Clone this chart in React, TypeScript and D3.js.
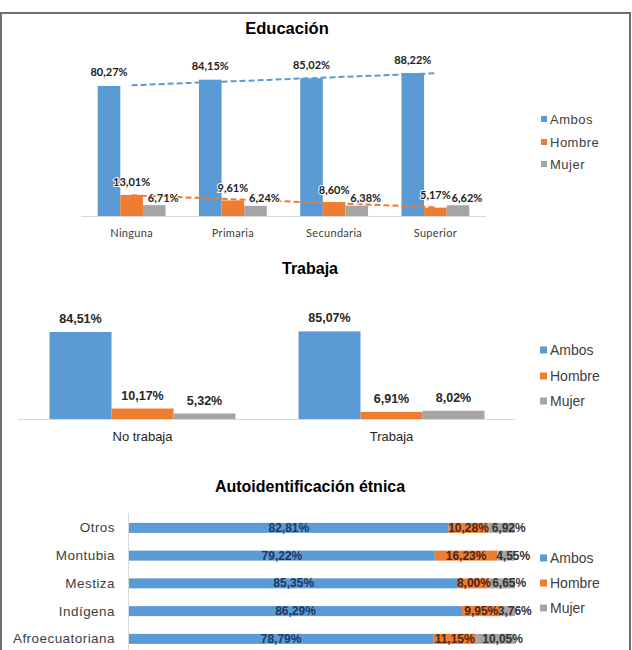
import React from "react";
import * as d3 from "d3";

// Educación
const eduCategories = ["Ninguna", "Primaria", "Secundaria", "Superior"];
const eduAmbos = [80.27, 84.15, 85.02, 88.22];
const eduHombre = [13.01, 9.61, 8.6, 5.17];
const eduMujer = [6.71, 6.24, 6.38, 6.62];

// Trabaja
const trabCategories = ["No trabaja", "Trabaja"];
const trabAmbos = [84.51, 85.07];
const trabHombre = [10.17, 6.91];
const trabMujer = [5.32, 8.02];

// Autoidentificación étnica
const etnCategories = ["Otros", "Montubia", "Mestiza", "Indígena", "Afroecuatoriana"];
const etnAmbos = [82.81, 79.22, 85.35, 86.29, 78.79];
const etnHombre = [10.28, 16.23, 8.0, 9.95, 11.15];
const etnMujer = [6.92, 4.55, 6.65, 3.76, 10.05];

const seriesNames = ["Ambos", "Hombre", "Mujer"];
const colors = ["#5b9bd5", "#ed7d31", "#a5a5a5"];

const fmt = (v: number) => v.toFixed(2).replace(".", ",") + "%";
const ARIAL = "'Liberation Sans', Arial, sans-serif";
const CALIBRI = "Lato, 'Open Sans', sans-serif";

// least squares fit over category index, like Excel's linear trendline
function linearFit(values: number[]) {
  const n = values.length;
  const xs = values.map((_, i) => i + 1);
  const mx = d3.mean(xs)!;
  const my = d3.mean(values)!;
  let sxy = 0, sxx = 0;
  for (let i = 0; i < n; i++) {
    sxy += (xs[i] - mx) * (values[i] - my);
    sxx += (xs[i] - mx) ** 2;
  }
  const slope = sxy / sxx;
  return values.map((_, i) => my + slope * (xs[i] - mx));
}

function Legend({ x, ys, size, font, fontSize, spacing = 0 }: any) {
  return (
    <g>
      {seriesNames.map((s, i) => (
        <g key={s}>
          <rect x={x} y={ys[i] - size / 2} width={size} height={size} fill={colors[i]} />
          <text x={x + size + 3} y={ys[i]} dominantBaseline="central" fontFamily={font}
            fontSize={fontSize} letterSpacing={spacing} fill="#404040">{s}</text>
        </g>
      ))}
    </g>
  );
}

function Educacion() {
  const x = d3.scaleBand().domain(eduCategories).range([81, 486]).paddingInner(0.33).paddingOuter(0.165);
  const sub = d3.scaleBand().domain(seriesNames).range([0, x.bandwidth()]);
  const y = d3.scaleLinear().domain([0, 100]).range([216, 54]);
  const series = [eduAmbos, eduHombre, eduMujer];
  const labelGap = [14, 13, 8];
  const labelShift = [0, 0, 9];
  const cx = (c: string) => x(c)! + x.bandwidth() / 2;
  const trend = d3.line<[number, number]>().x((d) => d[0]).y((d) => y(d[1]));
  return (
    <g>
      <text x={287} y={28} textAnchor="middle" dominantBaseline="central" fontFamily={ARIAL}
        fontWeight="bold" fontSize={16.5} fill="#000">Educación</text>
      <line x1={81} x2={486} y1={216.5} y2={216.5} stroke="#d9d9d9" />
      {series.map((vals, si) =>
        vals.map((v, i) => (
          <rect key={`${si}-${i}`} x={x(eduCategories[i])! + sub(seriesNames[si])!} y={y(v)}
            width={sub.bandwidth()} height={y(0) - y(v)} fill={colors[si]} />
        ))
      )}
      {[eduAmbos, eduHombre].map((vals, si) => {
        const fit = linearFit(vals);
        return (
          <path key={si} d={trend(eduCategories.map((c, i) => [cx(c), fit[i]]))!}
            fill="none" stroke={colors[si]} strokeWidth={2} strokeDasharray="6,3" />
        );
      })}
      {series.map((vals, si) =>
        vals.map((v, i) => (
          <text key={`l${si}-${i}`}
            x={x(eduCategories[i])! + sub(seriesNames[si])! + sub.bandwidth() / 2 + labelShift[si]}
            y={y(v) - labelGap[si]} textAnchor="middle" dominantBaseline="central"
            fontFamily={CALIBRI} fontWeight="bold" fontSize={11} fill="#222"
            stroke="#fff" strokeWidth={2} paintOrder="stroke">{fmt(v)}</text>
        ))
      )}
      {eduCategories.map((c) => (
        <text key={c} x={cx(c)} y={232} textAnchor="middle" dominantBaseline="central"
          fontFamily={CALIBRI} fontSize={11} letterSpacing={0.3} fill="#404040">{c}</text>
      ))}
      <Legend x={541} ys={[119, 142, 164]} size={6} font={ARIAL} fontSize={13} spacing={0.5} />
    </g>
  );
}

function Trabaja() {
  const x = d3.scaleBand().domain(trabCategories).range([18, 516]).paddingInner(0.253).paddingOuter(0.1265);
  const sub = d3.scaleBand().domain(seriesNames).range([0, x.bandwidth()]);
  const y = d3.scaleLinear().domain([0, 100]).range([419, 316]);
  const series = [trabAmbos, trabHombre, trabMujer];
  return (
    <g>
      <text x={310} y={268} textAnchor="middle" dominantBaseline="central" fontFamily={ARIAL}
        fontWeight="bold" fontSize={16} fill="#000">Trabaja</text>
      {series.map((vals, si) =>
        vals.map((v, i) => (
          <rect key={`${si}-${i}`} x={x(trabCategories[i])! + sub(seriesNames[si])!} y={y(v)}
            width={sub.bandwidth()} height={y(0) - y(v)} fill={colors[si]} />
        ))
      )}
      <line x1={18} x2={516} y1={419.5} y2={419.5} stroke="#d9d9d9" />
      {series.map((vals, si) =>
        vals.map((v, i) => (
          <text key={`l${si}-${i}`} x={x(trabCategories[i])! + sub(seriesNames[si])! + sub.bandwidth() / 2}
            y={y(v) - 13} textAnchor="middle" dominantBaseline="central" fontFamily={ARIAL}
            fontWeight="bold" fontSize={12.5} fill="#262626">{fmt(v)}</text>
        ))
      )}
      {trabCategories.map((c) => (
        <text key={c} x={x(c)! + x.bandwidth() / 2} y={436} textAnchor="middle" dominantBaseline="central"
          fontFamily={ARIAL} fontSize={13} fill="#262626">{c}</text>
      ))}
      <Legend x={540} ys={[350, 376, 401]} size={7} font={ARIAL} fontSize={14} />
    </g>
  );
}

function Etnica() {
  const y = d3.scaleBand().domain(etnCategories).range([514, 652.75]).paddingInner(0.64).paddingOuter(0.32);
  const x = d3.scaleLinear().domain([0, 100]).range([129, 515]);
  const rows = etnCategories.map((c, i) => [etnAmbos[i], etnHombre[i], etnMujer[i]]);
  const labelColors = ["#1f3864", "#4a2618", "#333333"];
  const labelShift = [0, 0, 7];
  return (
    <g>
      <text x={310} y={486} textAnchor="middle" dominantBaseline="central" fontFamily={ARIAL}
        fontWeight="bold" fontSize={16} fill="#000">Autoidentificación étnica</text>
      <line x1={128.5} x2={128.5} y1={513} y2={650} stroke="#d9d9d9" />
      {rows.map((vals, i) => {
        const c = etnCategories[i];
        const starts = [0, vals[0], vals[0] + vals[1]];
        return (
          <g key={c}>
            {vals.map((v, si) => (
              <rect key={si} x={x(starts[si])} y={y(c)} width={x(starts[si] + v) - x(starts[si])}
                height={y.bandwidth()} fill={colors[si]} />
            ))}
          </g>
        );
      })}
      {rows.map((vals, i) => {
        const c = etnCategories[i];
        const starts = [0, vals[0], vals[0] + vals[1]];
        return (
          <g key={`l${c}`}>
            {vals.map((v, si) => (
              <text key={si} x={x(starts[si] + v / 2) + labelShift[si]} y={y(c)! + y.bandwidth() / 2}
                textAnchor="middle" dominantBaseline="central" fontFamily={ARIAL} fontWeight="bold"
                fontSize={12} fill={labelColors[si]}>{fmt(v)}</text>
            ))}
            <text x={115} y={y(c)! + y.bandwidth() / 2} textAnchor="end" dominantBaseline="central"
              fontFamily={ARIAL} fontSize={13.5} letterSpacing={0.45} fill="#404040">{c}</text>
          </g>
        );
      })}
      <Legend x={540} ys={[558, 583, 608]} size={7} font={ARIAL} fontSize={14} />
    </g>
  );
}

export default function App() {
  return (
    <div style={{ position: "absolute", left: 0, top: 0 }}>
      <style>{`body { margin: 0; }`}</style>
      <svg width={632} height={650} style={{ display: "block", background: "#fff" }}>
        <rect x={0} y={0} width={632} height={650} fill="#fff" />
        <path d="M1,650 V13 H630 V650" fill="none" stroke="#6f6f6f" strokeWidth={2} />
        <Educacion />
        <Trabaja />
        <Etnica />
      </svg>
    </div>
  );
}
